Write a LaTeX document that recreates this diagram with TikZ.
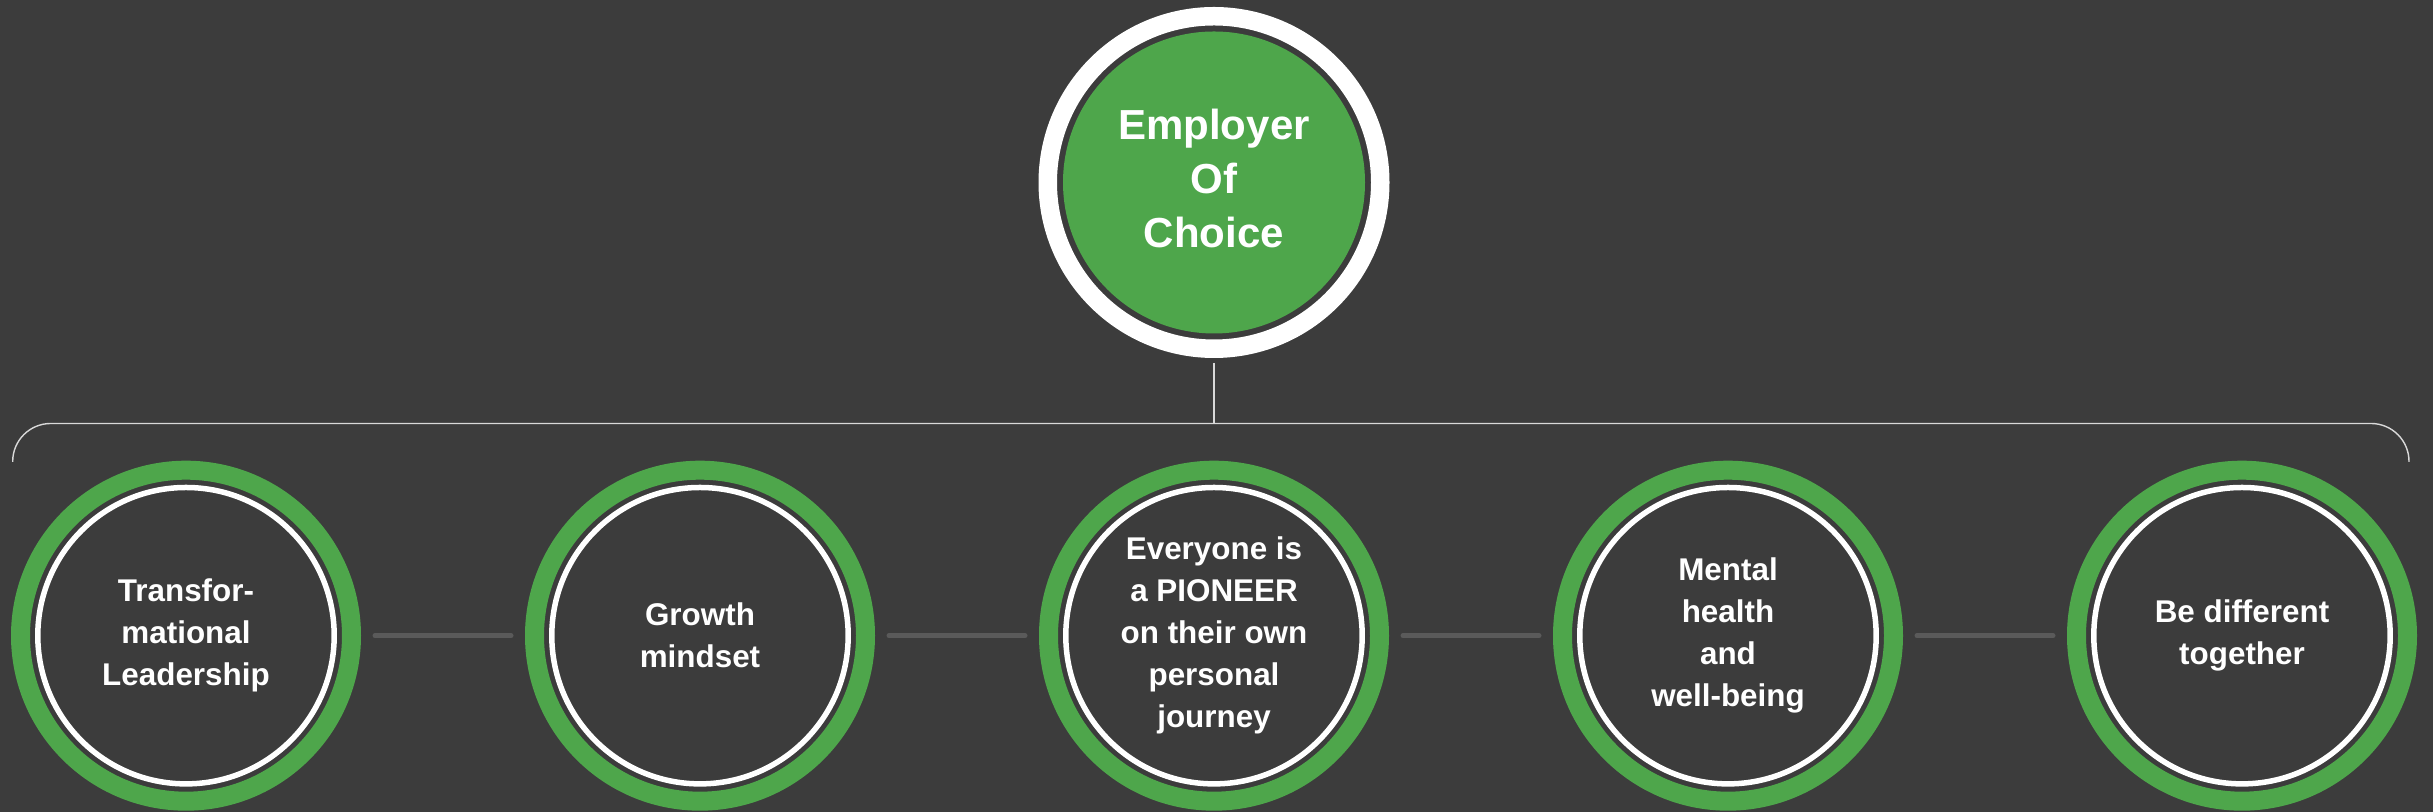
\documentclass[tikz,border=0pt]{standalone}
\usepackage{fontspec}
\setmainfont{Liberation Sans}
\usetikzlibrary{trees}

\definecolor{bgc}{HTML}{3C3C3C}
\definecolor{leafgreen}{HTML}{4EA64B}
\definecolor{linkgray}{HTML}{5A5A5A}
\definecolor{bracegray}{HTML}{D9D9D9}

\begin{document}
\begin{tikzpicture}[x=1pt, y=1pt,
    every node/.style = {shape=circle, align=center, inner sep=0pt, text=white},
    hub/.style = {minimum size=166.25pt, draw=white, line width=9.25pt, fill=bgc,
        font=\fontsize{21}{27}\selectfont\bfseries, text depth=4.6pt,
        path picture={\fill[leafgreen] (path picture bounding box.center) circle (75.5pt);}},
    pillar/.style = {minimum size=165.5pt, draw=leafgreen, line width=9.5pt, fill=bgc,
        font=\fontsize{15.7}{21}\selectfont\bfseries,
        path picture={\draw[white, line width=2.75pt] (path picture bounding box.center) circle (74.1pt);}},
    link/.style = {draw=linkgray, line width=2.5pt, line cap=round, shorten <=7pt, shorten >=7pt},
    brace/.style = {draw=bracegray, line width=0.7pt},
    level distance=226.6pt,
    level 1/.style={sibling distance=257pt},
    edge from parent/.style={draw=none}]

    \fill[bgc] (0,0) rectangle (1216.5,406);
    \useasboundingbox (0,0) rectangle (1216.5,406);

    \node[hub] (top) at (607,314.75) {Employer\\Of\\Choice}
        child { node[pillar] (p1) {Transfor-\\mational\\Leadership}}
        child { node[pillar] (p2) {Growth\\mindset}}
        child { node[pillar] (p3) {Everyone is\\a PIONEER\\on their own\\personal\\journey}}
        child { node[pillar] (p4) {Mental\\health\\and\\well-being}}
        child { node[pillar] (p5) {Be different\\together}};

    % bracket under the top circle
    \coordinate (stem) at (607,194.25);
    \coordinate (lend) at (6.35,175);
    \coordinate (rend) at (1204.5,175);
    \draw[brace, shorten <=2.5pt] (top) -- (stem);
    \draw[brace, rounded corners=19pt] (lend) |- (stem) -| (rend);

    \foreach \a/\b in {p1/p2, p2/p3, p3/p4, p4/p5}
        \draw[link] (\a) -- (\b);
\end{tikzpicture}
\end{document}
